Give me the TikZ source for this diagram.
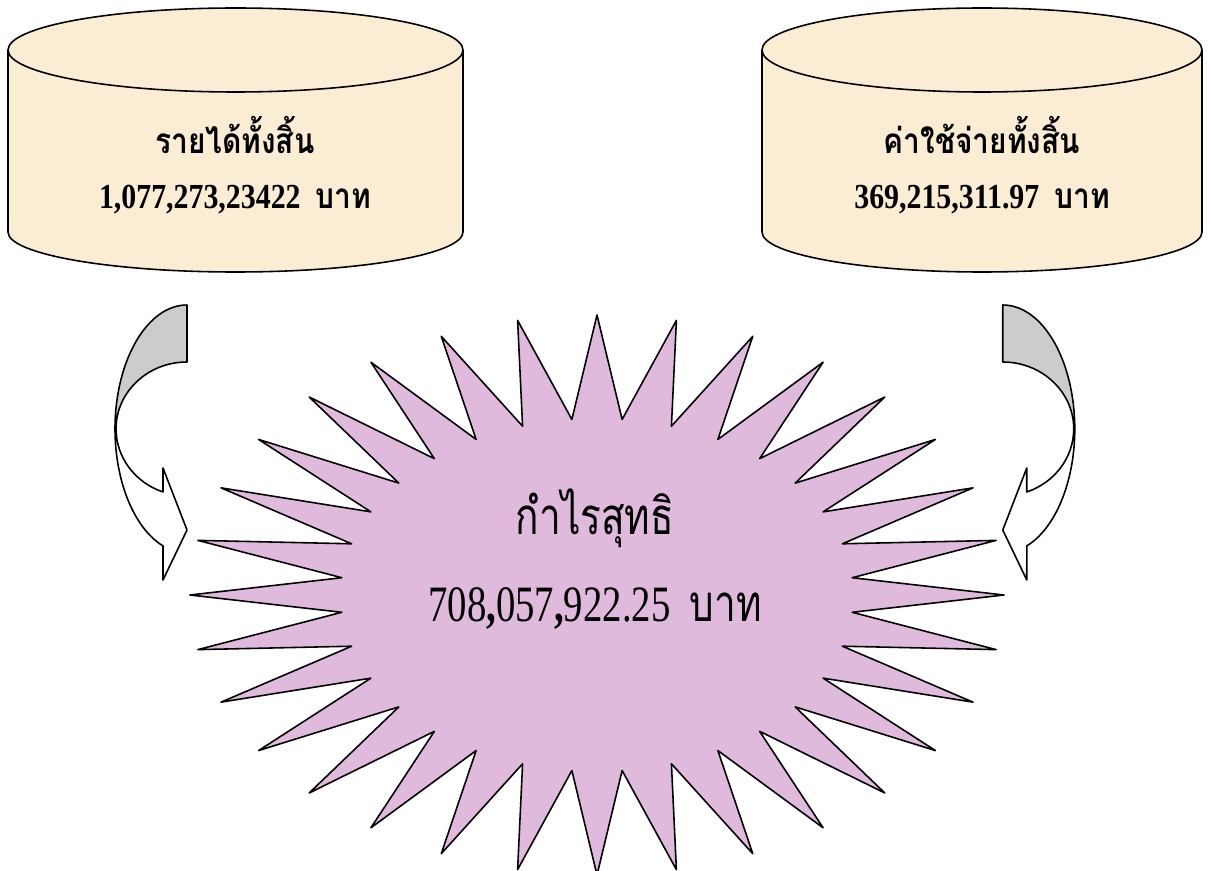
\documentclass[tikz,border=0pt]{standalone}
\usepackage{fontspec}
\setmainfont{Liberation Serif}
\newfontfamily\tankfont[FakeStretch=0.85]{Liberation Serif}
\newfontfamily\tankthai[Script=Thai,FakeStretch=0.85]{Loma}
\newfontfamily\starfont[FakeStretch=0.76]{Liberation Serif}
\newfontfamily\starthai[Script=Thai,FakeStretch=0.76]{Loma}
\definecolor{parchment}{RGB}{250,237,212}
\definecolor{lilac}{RGB}{223,186,220}
\definecolor{backgray}{RGB}{204,204,204}
\begin{document}
\begin{tikzpicture}[x=0.02cm, y=-0.02cm, line width=0.9pt, line join=round,
    tank/.style={fill=parchment, draw=black},
    tanktext/.style={font=\fontsize{20}{24}\selectfont\bfseries, inner sep=0pt},
    startext/.style={font=\fontsize{29}{34}\selectfont, inner sep=0pt}]
    \useasboundingbox (0,0) rectangle (1210,871);
    \draw [tank] (8,50) -- (8,232) arc (180:0:227.5 and 40) -- (463,50) arc (0:-180:227.5 and 42) -- cycle;
    \draw (8,50) arc (180:0:227.5 and 42);
    \draw [tank] (762,50) -- (762,232) arc (180:0:220 and 40) -- (1202,50) arc (0:-180:220 and 42) -- cycle;
    \draw (762,50) arc (180:0:220 and 42);
    \node [tanktext] (incomeTitle) at (235,135) {\tankthai\bfseries รายได้ทั้งสิ้น};
    \node [tanktext] (incomeValue) at (235,200) {\tankfont 1,077,273,23422~~{\tankthai\bfseries บาท}};
    \node [tanktext] (costTitle) at (982,135) {\tankthai\bfseries ค่าใช้จ่ายทั้งสิ้น};
    \node [tanktext] (costValue) at (982,200) {\tankfont 369,215,311.97~~{\tankthai\bfseries บาท}};
    \draw [fill=lilac] (597,315) \foreach \i in {1,...,63} {
        -- ({597+407*(1-0.37*mod(\i,2))*cos(-90+\i*5.625)},{595+280*(1-0.37*mod(\i,2))*sin(-90+\i*5.625)})
    } -- cycle;
    \node [startext] (profitTitle) at (595,518) {\starthai กำไรสุทธิ};
    \node [startext] (profitValue) at (595,608) {\starfont 708\textbf{,}057\textbf{,}922.25~~{\starthai บาท}};
    \foreach \s/\m in {0/1, 23.8cm/-1} {
        \begin{scope}[xshift=\s, xscale=\m]
            \draw [fill=backgray] (187,305) arc (-90:-180:72 and 124) -- (116,429) arc (180:270:71 and 67) -- cycle;
            \draw [fill=white] (115,429) arc (180:109.5:72 and 124) -- (163,580) -- (187,530) -- (163,468) -- (163,492) arc (109.8:180:71 and 67) -- cycle;
        \end{scope}
    }
\end{tikzpicture}
\end{document}
